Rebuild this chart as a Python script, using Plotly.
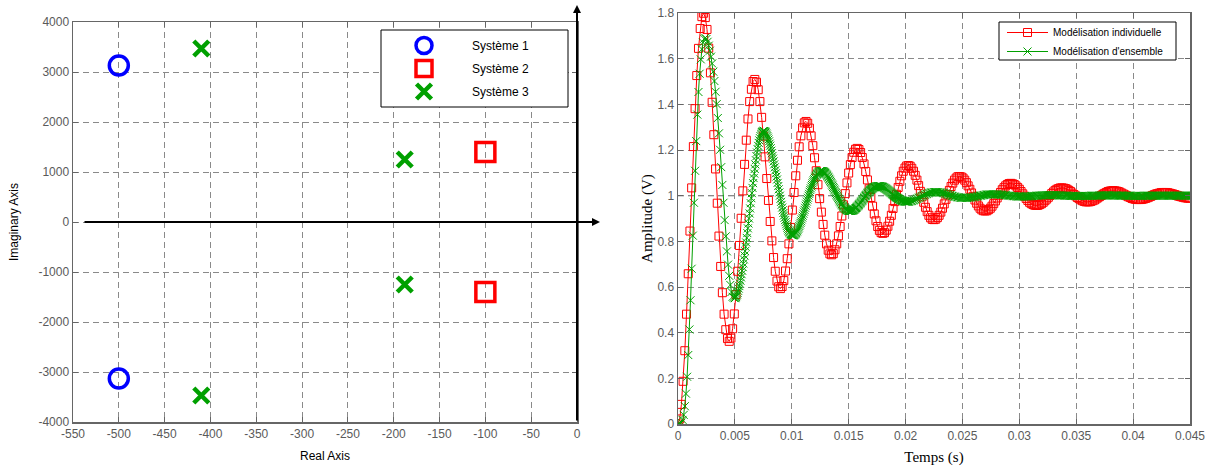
import plotly.graph_objects as go

# ---------------- data: pole map ----------------
SYSTEMS = ["Système 1", "Système 2", "Système 3"]
S1_RE = [-500, -500]
S1_IM = [3130, -3130]
S2_RE = [-100, -100]
S2_IM = [1400, -1400]
S3_RE = [-410, -410, -188, -188]
S3_IM = [3470, -3470, 1250, -1250]

LEFT_X_TICKS = [-550, -500, -450, -400, -350, -300, -250, -200, -150, -100, -50, 0]
LEFT_X_LABELS = ["-550", "-500", "-450", "-400", "-350", "-300", "-250", "-200", "-150", "-100", "-50", "0"]
LEFT_Y_TICKS = [-4000, -3000, -2000, -1000, 0, 1000, 2000, 3000, 4000]
LEFT_Y_LABELS = ["-4000", "-3000", "-2000", "-1000", "0", "1000", "2000", "3000", "4000"]

# ---------------- data: step responses ----------------
SERIES = ["Modélisation individuelle", "Modélisation d'ensemble"]
RED_STEP = 0.00015
RED_Y = [
    0.000, 0.022, 0.086, 0.187, 0.321, 0.481, 0.658, 0.845, 1.034, 1.215, 1.381, 1.526, 1.645, 1.732, 1.784,
    1.799, 1.780, 1.728, 1.646, 1.538, 1.409, 1.267, 1.117, 0.967, 0.823, 0.690, 0.575, 0.481, 0.413, 0.374,
    0.362, 0.376, 0.417, 0.482, 0.567, 0.669, 0.782, 0.901, 1.021, 1.137, 1.243, 1.336, 1.412, 1.466, 1.500,
    1.509, 1.497, 1.464, 1.412, 1.343, 1.261, 1.170, 1.075, 0.979, 0.887, 0.802, 0.729, 0.669, 0.626, 0.601,
    0.593, 0.602, 0.628, 0.670, 0.724, 0.789, 0.861, 0.937, 1.014, 1.087, 1.155, 1.214, 1.262, 1.297, 1.319,
    1.325, 1.317, 1.296, 1.262, 1.219, 1.166, 1.109, 1.048, 0.987, 0.928, 0.874, 0.827, 0.789, 0.761, 0.745,
    0.741, 0.746, 0.763, 0.789, 0.824, 0.865, 0.911, 0.960, 1.009, 1.056, 1.099, 1.136, 1.167, 1.190, 1.203,
    1.207, 1.202, 1.189, 1.167, 1.139, 1.106, 1.069, 1.030, 0.992, 0.954, 0.920, 0.890, 0.865, 0.848, 0.838,
    0.835, 0.838, 0.849, 0.866, 0.888, 0.914, 0.944, 0.974, 1.006, 1.036, 1.063, 1.087, 1.107, 1.121, 1.130,
    1.132, 1.129, 1.120, 1.107, 1.089, 1.068, 1.044, 1.019, 0.995, 0.971, 0.949, 0.930, 0.914, 0.903, 0.896,
    0.895, 0.897, 0.904, 0.914, 0.928, 0.945, 0.964, 0.984, 1.004, 1.023, 1.040, 1.055, 1.068, 1.077, 1.083,
    1.084, 1.082, 1.077, 1.068, 1.057, 1.043, 1.028, 1.012, 0.997, 0.981, 0.967, 0.955, 0.945, 0.938, 0.934,
    0.933, 0.934, 0.939, 0.945, 0.954, 0.965, 0.977, 0.990, 1.002, 1.014, 1.026, 1.035, 1.043, 1.049, 1.053,
    1.054, 1.052, 1.049, 1.043, 1.036, 1.028, 1.018, 1.008, 0.998, 0.988, 0.979, 0.971, 0.965, 0.961, 0.958,
    0.957, 0.958, 0.961, 0.965, 0.971, 0.978, 0.985, 0.993, 1.001, 1.009, 1.016, 1.023, 1.028, 1.031, 1.034,
    1.034, 1.033, 1.031, 1.028, 1.023, 1.018, 1.011, 1.005, 0.999, 0.992, 0.987, 0.982, 0.978, 0.975, 0.973,
    0.973, 0.973, 0.975, 0.978, 0.981, 0.986, 0.991, 0.996, 1.001, 1.006, 1.010, 1.014, 1.018, 1.020, 1.021,
    1.022, 1.021, 1.020, 1.018, 1.015, 1.011, 1.007, 1.003, 0.999, 0.995, 0.992, 0.988, 0.986, 0.984, 0.983,
    0.983, 0.983, 0.984, 0.986, 0.988, 0.991, 0.994, 0.997, 1.001, 1.004, 1.007, 1.009, 1.011, 1.013, 1.014,
    1.014, 1.014, 1.013, 1.011, 1.009, 1.007, 1.005, 1.002, 0.999, 0.997, 0.995, 0.993, 0.991, 0.990, 0.989,
    0.989,
]

# green samples: coarse start, dense middle, medium tail
GREEN_STEP_A = 0.0001
GREEN_T0 = 0.00016157
GREEN_PERIOD = 0.0050265
GREEN_Y_A = [
    0.000, 0.000, 0.001, 0.006, 0.018, 0.040, 0.078, 0.133, 0.207, 0.302, 0.414, 0.542, 0.680, 0.825, 0.969,
    1.109, 1.239, 1.355, 1.454, 1.534, 1.597, 1.641, 1.671, 1.687, 1.691, 1.686, 1.674, 1.657, 1.635, 1.609,
    1.579, 1.543, 1.502, 1.455, 1.401, 1.340, 1.273, 1.201, 1.125, 1.047, 0.969, 0.893, 0.822, 0.756, 0.698,
    0.649, 0.609, 0.578, 0.557, 0.553, 0.551,
]
GREEN_Y_B = [
    0.553, 0.556, 0.560,
    0.567, 0.574, 0.583, 0.593, 0.604, 0.615, 0.628, 0.642, 0.656, 0.671,
    0.687, 0.703, 0.721, 0.738, 0.757, 0.776, 0.795, 0.815, 0.836, 0.857,
    0.878, 0.900, 0.922, 0.944, 0.967, 0.989, 1.011, 1.034, 1.055, 1.077,
    1.097, 1.117, 1.137, 1.155, 1.173, 1.189, 1.204, 1.218, 1.231, 1.242,
    1.252, 1.261, 1.268, 1.274, 1.278, 1.281, 1.283, 1.283, 1.282, 1.280,
    1.277, 1.273, 1.267, 1.261, 1.254, 1.246, 1.238, 1.228, 1.219, 1.208,
    1.197, 1.186, 1.174, 1.162, 1.150, 1.137, 1.124, 1.111, 1.098, 1.084,
    1.071, 1.056, 1.042, 1.028, 1.014, 1.000, 0.986, 0.973, 0.960, 0.948,
    0.936, 0.924, 0.913, 0.903, 0.893, 0.884, 0.875, 0.867, 0.860, 0.853,
    0.847, 0.842, 0.838, 0.834, 0.831, 0.829, 0.827, 0.827, 0.826, 0.827,
    0.828, 0.830, 0.833, 0.836, 0.840, 0.844, 0.849, 0.855, 0.861, 0.867,
    0.874, 0.881, 0.888, 0.896, 0.904, 0.912, 0.921, 0.930, 0.938, 0.947,
    0.956, 0.965, 0.974, 0.983, 0.991, 1.000, 1.008, 1.017, 1.025, 1.032,
    1.040, 1.047, 1.054, 1.061, 1.067, 1.072, 1.078, 1.083, 1.087, 1.091,
    1.095, 1.098, 1.101, 1.103, 1.105, 1.107, 1.108, 1.108, 1.108, 1.108,
    1.107, 1.106, 1.104, 1.102, 1.100, 1.097, 1.094, 1.091, 1.087, 1.083,
    1.079, 1.074, 1.070, 1.065, 1.060, 1.055, 1.049, 1.044, 1.038, 1.033,
    1.027, 1.022, 1.016, 1.011, 1.005, 1.000, 0.995, 0.990, 0.985, 0.980,
    0.975, 0.971, 0.966, 0.962, 0.958, 0.955, 0.951, 0.948, 0.946, 0.943,
    0.941, 0.939, 0.937, 0.936, 0.934, 0.933, 0.933, 0.933, 0.933, 0.933,
    0.933, 0.934, 0.935, 0.936, 0.938, 0.939, 0.941, 0.944, 0.946, 0.948,
    0.951, 0.954, 0.957, 0.960, 0.963, 0.966, 0.969, 0.973, 0.976, 0.979,
    0.983, 0.986, 0.990, 0.993, 0.997, 1.000, 1.003, 1.006, 1.010, 1.013,
    1.016, 1.018, 1.021, 1.024, 1.026, 1.028, 1.030, 1.032, 1.034, 1.036,
    1.037, 1.038, 1.039, 1.040, 1.041, 1.041, 1.042, 1.042, 1.042, 1.042,
    1.042, 1.041, 1.040, 1.040, 1.039, 1.038, 1.037, 1.035, 1.034, 1.032,
    1.031, 1.029, 1.027, 1.025, 1.023, 1.021, 1.019, 1.017, 1.015, 1.013,
    1.011, 1.008, 1.006, 1.004, 1.002, 1.000, 0.998, 0.996, 0.994, 0.992,
    0.990, 0.989, 0.987, 0.985, 0.984, 0.982, 0.981, 0.980, 0.979, 0.978,
    0.977, 0.976, 0.975, 0.975, 0.974, 0.974, 0.974, 0.974, 0.974, 0.974,
]
GREEN_Y_C = [
    0.974, 0.975, 0.976, 0.977, 0.979, 0.981, 0.983, 0.986, 0.988, 0.991,
    0.993, 0.996, 0.999, 1.001, 1.004, 1.006, 1.008, 1.010, 1.012, 1.013,
    1.014, 1.015, 1.016, 1.016, 1.016, 1.016, 1.016, 1.015, 1.014, 1.013,
    1.012, 1.011, 1.009, 1.007, 1.006, 1.004, 1.002, 1.001, 0.999, 0.998,
    0.996, 0.995, 0.994, 0.993, 0.992, 0.991, 0.990, 0.990, 0.990, 0.990,
    0.990, 0.990, 0.991, 0.991, 0.992, 0.993, 0.993, 0.994, 0.995, 0.996,
    0.997, 0.998, 1.000, 1.000, 1.001, 1.002, 1.003, 1.004, 1.005, 1.005,
    1.006, 1.006, 1.006, 1.006, 1.006, 1.006, 1.006, 1.006, 1.006, 1.005,
    1.005, 1.004, 1.004, 1.003, 1.002, 1.002, 1.001, 1.000, 1.000, 0.999,
    0.999, 0.998, 0.998, 0.997, 0.997, 0.997, 0.996, 0.996, 0.996, 0.996,
    0.996, 0.996, 0.996, 0.997, 0.997, 0.997, 0.997, 0.998, 0.998, 0.999,
    0.999, 0.999, 1.000, 1.000, 1.001, 1.001, 1.001, 1.002, 1.002, 1.002,
    1.002, 1.002, 1.002, 1.002, 1.002, 1.002, 1.002, 1.002, 1.002, 1.002,
    1.002, 1.002, 1.001, 1.001, 1.001, 1.001, 1.000, 1.000, 1.000, 1.000,
    0.999, 0.999, 0.999, 0.999, 0.999, 0.999, 0.999, 0.998, 0.998, 0.998,
    0.998, 0.999, 0.999, 0.999, 0.999, 0.999, 0.999, 0.999, 0.999, 0.999,
    1.000, 1.000, 1.000, 1.000, 1.000, 1.000, 1.000, 1.001, 1.001, 1.001,
    1.001, 1.001, 1.001, 1.001, 1.001, 1.001, 1.001, 1.001, 1.001, 1.001,
    1.001, 1.001, 1.001, 1.000, 1.000, 1.000, 1.000, 1.000, 1.000, 1.000,
    1.000, 1.000, 1.000, 1.000, 1.000, 0.999, 0.999, 0.999, 0.999, 0.999,
    0.999, 0.999, 0.999, 0.999, 0.999, 0.999, 1.000, 1.000, 1.000, 1.000,
    1.000, 1.000, 1.000, 1.000, 1.000, 1.000, 1.000, 1.000, 1.000, 1.000,
    1.000, 1.000, 1.000, 1.000, 1.000, 1.000, 1.000, 1.000, 1.000, 1.000,
    1.000, 1.000, 1.000, 1.000, 1.000, 1.000, 1.000, 1.000, 1.000, 1.000,
    1.000, 1.000, 1.000, 1.000, 1.000, 1.000, 1.000, 1.000, 1.000, 1.000,
]

RIGHT_X_TICKS = [0, 0.005, 0.01, 0.015, 0.02, 0.025, 0.03, 0.035, 0.04, 0.045]
RIGHT_X_LABELS = ["0", "0.005", "0.01", "0.015", "0.02", "0.025", "0.03", "0.035", "0.04", "0.045"]
RIGHT_Y_TICKS = [0, 0.2, 0.4, 0.6, 0.8, 1.0, 1.2, 1.4, 1.6, 1.8]
RIGHT_Y_LABELS = ["0", "0.2", "0.4", "0.6", "0.8", "1", "1.2", "1.4", "1.6", "1.8"]
STEADY_STATE = 1.0

# sample instants
t_red = [i * RED_STEP for i in range(len(RED_Y))]
t_green = ([i * GREEN_STEP_A for i in range(len(GREEN_Y_A))]
           + [GREEN_T0 + m * GREEN_PERIOD / 100 for m in range(97, 97 + len(GREEN_Y_B))]
           + [GREEN_T0 + m * GREEN_PERIOD / 100 for m in range(400, 400 + 2 * len(GREEN_Y_C), 2)])
green_y = GREEN_Y_A + GREEN_Y_B + GREEN_Y_C

# full-window figure; the page's default body margin is removed in post_script
W, H = 1208, 468
BLUE = "#0000ff"
RED = "#ff0000"
GREEN = "rgb(0,160,0)"
SANS = "Liberation Sans, Arial, sans-serif"
SERIF = "Liberation Serif, Times New Roman, serif"
AX_GRAY = "#666666"
GRID = "#8a8a8a"


def px_x(p):
    """screen pixel -> paper x"""
    return p / W


def px_y(p):
    """screen pixel -> paper y"""
    return 1 - p / H


fig = go.Figure()

# left: pole map
fig.add_trace(go.Scatter(x=S1_RE, y=S1_IM, mode="markers", name=SYSTEMS[0], legendgroup="s1",
                         marker=dict(symbol="circle-open", size=19, color=BLUE, line=dict(width=3.5, color=BLUE)),
                         xaxis="x", yaxis="y", legend="legend"))
fig.add_trace(go.Scatter(x=S2_RE, y=S2_IM, mode="markers", name=SYSTEMS[1], legendgroup="s2",
                         marker=dict(symbol="square-open", size=19, color=RED, line=dict(width=3.5, color=RED)),
                         xaxis="x", yaxis="y", legend="legend"))
fig.add_trace(go.Scatter(x=S3_RE, y=S3_IM, mode="markers", name=SYSTEMS[2], legendgroup="s3",
                         marker=dict(symbol="x-thin", size=15, color=GREEN, line=dict(width=4.5, color=GREEN)),
                         xaxis="x", yaxis="y", legend="legend"))

# right: step responses
fig.add_trace(go.Scatter(x=t_red, y=RED_Y, mode="lines+markers", name=SERIES[0],
                         line=dict(color=RED, width=1),
                         marker=dict(symbol="square-open", size=8, color=RED, line=dict(width=1, color=RED)),
                         xaxis="x2", yaxis="y2", legend="legend2"))
fig.add_trace(go.Scatter(x=t_green, y=green_y, mode="lines+markers", name=SERIES[1],
                         line=dict(color=GREEN, width=1),
                         marker=dict(symbol="x-thin", size=8, color=GREEN, line=dict(width=1, color=GREEN)),
                         xaxis="x2", yaxis="y2", legend="legend2"))

axis_common = dict(showgrid=True, gridcolor=GRID, griddash="6px,4px", gridwidth=1,
                   showline=True, linecolor=AX_GRAY, linewidth=1.5, mirror="ticks",
                   ticks="inside", ticklen=5, tickcolor=AX_GRAY, zeroline=False, automargin=False,
                   ticklabeloverflow="allow",
                   tickfont=dict(family=SANS, size=12, color="#5a5a5a"), tickmode="array")

fig.update_layout(
    width=W, height=H, margin=dict(l=0, r=0, t=0, b=0, autoexpand=False),
    paper_bgcolor="white", plot_bgcolor="white", hovermode=False,
    xaxis=dict(domain=[px_x(73), px_x(577)], range=[-550, 0], tickvals=LEFT_X_TICKS, ticktext=LEFT_X_LABELS,
               title=dict(text="Real Axis", font=dict(family=SANS, size=12, color="black"), standoff=11),
               anchor="y", **axis_common),
    yaxis=dict(domain=[px_y(422), px_y(22)], range=[-4000, 4000], tickvals=LEFT_Y_TICKS, ticktext=LEFT_Y_LABELS,
               title=dict(text="Imaginary Axis", font=dict(family=SANS, size=12, color="black"), standoff=17),
               anchor="x", **axis_common),
    xaxis2=dict(domain=[px_x(678), px_x(1190)], range=[0, 0.045], tickvals=RIGHT_X_TICKS, ticktext=RIGHT_X_LABELS,
                title=dict(text="Temps (s)", font=dict(family=SERIF, size=15, color="black"), standoff=9),
                anchor="y2", **axis_common),
    yaxis2=dict(domain=[px_y(424), px_y(13)], range=[0, 1.8], tickvals=RIGHT_Y_TICKS, ticktext=RIGHT_Y_LABELS,
                title=dict(text="Amplitude (V)", font=dict(family=SERIF, size=15, color="black"), standoff=1),
                anchor="x2", **axis_common),
    legend=dict(x=px_x(376), y=px_y(31), xanchor="left", yanchor="top", bgcolor="rgba(0,0,0,0)",
                borderwidth=0, itemwidth=86, font=dict(family=SANS, size=12, color="black"),
                itemsizing="trace", tracegroupgap=4),
    legend2=dict(x=px_x(1002), y=px_y(18), xanchor="left", yanchor="top", bgcolor="rgba(0,0,0,0)",
                 borderwidth=0, itemwidth=41, font=dict(family=SANS, size=10, color="black")),
    showlegend=True,
)

# legend frames
fig.add_shape(type="rect", xref="paper", yref="paper", x0=px_x(381), x1=px_x(568), y0=px_y(107), y1=px_y(30),
              line=dict(color="black", width=1), fillcolor="white", layer="above")
fig.add_shape(type="rect", xref="paper", yref="paper", x0=px_x(999), x1=px_x(1176), y0=px_y(60), y1=px_y(22),
              line=dict(color="black", width=1), fillcolor="white", layer="above")

# steady-state reference line on right plot
fig.add_shape(type="line", xref="x2", yref="y2", x0=RIGHT_X_TICKS[0], x1=RIGHT_X_TICKS[-1],
              y0=STEADY_STATE, y1=STEADY_STATE, line=dict(color="black", width=1, dash="6px,4px"), layer="below")

# real and imaginary axes with arrows on the pole map
fig.add_annotation(x=px_x(600), y=0, xref="paper", yref="y", ax=83 - 600, ay=0, axref="pixel", ayref="pixel",
                   text="", showarrow=True, arrowhead=2, arrowsize=0.8, arrowwidth=2, arrowcolor="black")
fig.add_annotation(x=0, y=px_y(5), xref="x", yref="paper", ax=0, ay=422 - 5, axref="pixel", ayref="pixel",
                   text="", showarrow=True, arrowhead=2, arrowsize=0.8, arrowwidth=2, arrowcolor="black")

fig.write_html("out.html", config={"displayModeBar": False, "staticPlot": True},
               post_script="document.body.style.margin='0';")
